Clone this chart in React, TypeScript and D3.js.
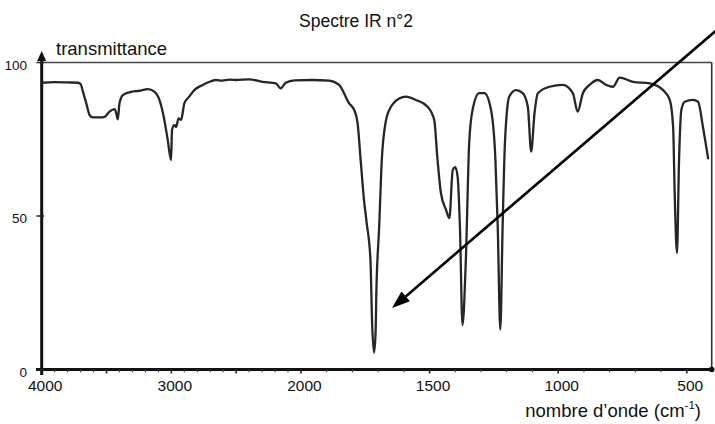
import React from "react";
import * as d3 from "d3";

// ---- data ----
const wavenumbers = [
  4000, 3900, 3800, 3720, 3700, 3682, 3656, 3631, 3605, 3554, 3515, 3477, 3438, 3425, 3413, 3400,
  3374, 3323, 3246, 3182, 3131, 3092, 3054, 3028, 3002, 2995, 2977, 2964, 2944, 2925, 2913, 2900,
  2862, 2823, 2759, 2700, 2656, 2608, 2550, 2500, 2400, 2297, 2195, 2156, 2118, 2050, 1956, 1891,
  1852, 1813, 1793, 1780, 1768, 1755, 1745, 1730, 1723, 1716, 1710, 1707, 1696, 1686, 1670, 1657,
  1618, 1592, 1553, 1508, 1482, 1469, 1456, 1436, 1423, 1410, 1400, 1391, 1382, 1372, 1359, 1346,
  1333, 1307, 1287, 1261, 1244, 1235, 1225, 1216, 1207, 1190, 1164, 1138, 1118, 1105, 1092, 1079,
  1034, 982, 943, 924, 904, 878, 846, 813, 787, 761, 709, 644, 592, 566, 553, 547, 538, 530, 521,
  508, 476, 456, 437, 417,
];
const transmittance = [
  93.4, 93.6, 93.5, 93.4, 93.0, 90.5, 86.7, 82.9, 82.1, 82.1, 82.3, 84.0, 84.8, 83.5, 81.5, 86.7,
  89.4, 90.3, 90.8, 91.3, 90.5, 87.8, 81.3, 74.8, 68.2, 78, 79.6, 79, 81.8, 81.3, 83.5, 86.7,
  88.9, 91, 92.7, 93.8, 94.3, 94.1, 94.4, 94.3, 94.5, 93.7, 93.2, 91.6, 93.4, 94.2, 94.3, 94.1,
  92.7, 86.7, 84.5, 80.3, 68.2, 55.2, 48, 35.7, 14, 5.5, 12, 25, 46.5, 68, 81, 84.5,
  88.3, 88.9, 87.8, 85.6, 81.3, 68.2, 57.5, 52, 49.3, 65, 65.9, 62.8, 46.5, 14.5, 35.7, 73.8,
  84.5, 90, 90, 84.5, 68.2, 46.5, 13, 46.5, 73.8, 88.9, 91, 90, 85.6, 71, 83.5, 90,
  92.1, 92.7, 90, 84, 90, 92.7, 94.3, 92.7, 92.1, 95.1, 93.7, 93.2, 91, 87.8, 79, 57.5, 38, 68.2, 84.5,
  87.2, 87.8, 87.2, 79, 68.8,
];

const title = "Spectre IR n°2";
const yTickValues = [0, 50, 100];
const xLabelTicks = [4000, 3000, 2000, 1500, 1000, 500];
const xMajorTicks = [4000, 3500, 3000, 2500, 2000, 1500, 1000, 500];
const xMinorTicks = d3.range(3900, 400, -100).filter((v) => !xMajorTicks.includes(v));
const xDomain = [4000, 2000, 403];
// annotation arrow (in data units): from top-right to the C=O band
const arrowFrom = { wn: 372, t: 111.4 };
const arrowTo = { wn: 1646, t: 20 };

const W = 715;
const H = 424;
const FONT = "'Liberation Sans', Arial, Helvetica, sans-serif";

export default function App() {
  const x = d3.scaleLinear().domain(xDomain).range([41.7, 301, 711.7]);
  const y = d3.scaleLinear().domain([0, 100]).range([369.5, 62.5]);

  const pts = wavenumbers.map((w, i) => [w, transmittance[i]] as [number, number]);
  const line = d3
    .line<[number, number]>()
    .x((d) => x(d[0]))
    .y((d) => y(d[1]))
    .curve(d3.curveMonotoneX);

  const x0 = x(xDomain[0]);
  const x1 = x(xDomain[2]);
  const y0 = y(0);
  const y100 = y(100);

  // arrow geometry
  const ax1 = x(arrowFrom.wn), ay1 = y(arrowFrom.t);
  const ax2 = x(arrowTo.wn), ay2 = y(arrowTo.t);
  const ang = Math.atan2(ay2 - ay1, ax2 - ax1);
  const headLen = 18, headHalf = 6.5;
  const bx = ax2 - headLen * Math.cos(ang);
  const by = ay2 - headLen * Math.sin(ang);
  const px = -Math.sin(ang) * headHalf;
  const py = Math.cos(ang) * headHalf;
  const head = `M${ax2},${ay2}L${bx + px},${by + py}L${bx - px},${by - py}Z`;

  return (
    <svg
      width={W}
      height={H}
      style={{ position: "absolute", left: 0, top: 0, background: "#fff" }}
      fontFamily={FONT}
    >
      <rect width={W} height={H} fill="#fff" />
      {/* title */}
      <text x={356} y={27} textAnchor="middle" fontSize={17.5} fill="#111">
        {title}
      </text>

      {/* frame: top and right */}
      <line x1={x0} x2={x1} y1={y100} y2={y100} stroke="#444" strokeWidth={1.6} />
      <line x1={x1} x2={x1} y1={y100} y2={y0} stroke="#333" strokeWidth={1.6} />

      {/* x axis */}
      <line x1={36} x2={x1} y1={y0} y2={y0} stroke="#111" strokeWidth={2.8} />
      {xMinorTicks.map((v) => (
        <line key={"m" + v} x1={x(v)} x2={x(v)} y1={y0} y2={y0 + 2.8} stroke="#444" strokeWidth={1.2} />
      ))}
      {xMajorTicks.map((v) => (
        <line key={"M" + v} x1={x(v)} x2={x(v)} y1={y0} y2={y0 + 4} stroke="#222" strokeWidth={1.6} />
      ))}
      {xLabelTicks.map((v) => (
        <text key={"l" + v} x={x(v) + 3.5} y={391} textAnchor="middle" fontSize={15.5} fill="#111">
          {v}
        </text>
      ))}
      <circle cx={x1} cy={y0} r={2.8} fill="#111" />

      {/* y axis */}
      <line x1={41.7} x2={41.7} y1={58} y2={375} stroke="#111" strokeWidth={3} />
      <path d={`M41.7,51L37.2,61L46.2,61Z`} fill="#111" />
      {yTickValues.map((v) => (
        <g key={"y" + v}>
          <line x1={36.5} x2={44} y1={y(v)} y2={y(v)} stroke="#222" strokeWidth={1.5} />
          <text x={27} y={y(v) + 7} textAnchor="end" fontSize={13.5} fill="#111">
            {v}
          </text>
        </g>
      ))}
      <text x={56} y={55} fontSize={18.5} fill="#111">
        transmittance
      </text>

      {/* x axis title */}
      <text x={701} y={417} textAnchor="end" fontSize={18.5} fill="#111">
        nombre d’onde (cm
        <tspan fontSize={11.5} dy={-8}>-1</tspan>
        <tspan dy={8}>)</tspan>
      </text>

      {/* spectrum */}
      <path
        d={line(pts) || ""}
        fill="none"
        stroke="#262626"
        strokeWidth={2.3}
        strokeLinejoin="round"
        strokeLinecap="round"
      />

      {/* annotation arrow */}
      <line x1={ax1} y1={ay1} x2={bx} y2={by} stroke="#000" strokeWidth={2.6} />
      <path d={head} fill="#000" />
    </svg>
  );
}
